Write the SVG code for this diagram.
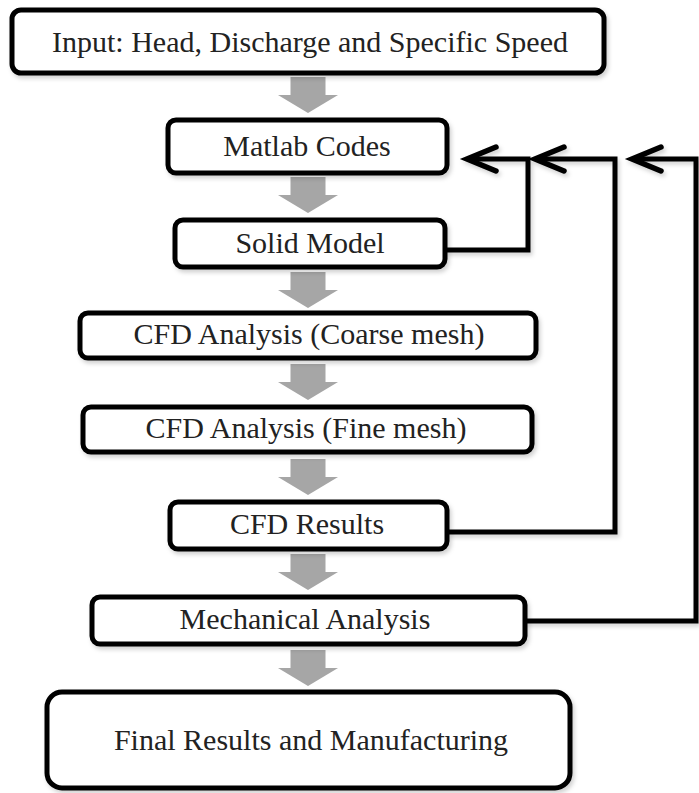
<svg xmlns="http://www.w3.org/2000/svg" width="699" height="793" viewBox="0 0 699 793">
<style>
.box{fill:#ffffff;stroke:#000000;stroke-width:5}
.lbl{font-family:"Liberation Serif","Times New Roman",serif;font-size:30px;fill:#222222;text-anchor:middle}
.conn{fill:none;stroke:#000000;stroke-width:5;stroke-linejoin:miter}
.flow{fill:#a6a6a6}
</style>
<defs>
<filter id="shadow" x="-5%" y="-20%" width="115%" height="150%">
<feDropShadow dx="2" dy="3" stdDeviation="2" flood-color="#000000" flood-opacity="0.18"/>
</filter>
<path id="down" class="flow" d="M-17.5 0 H17.5 V18 H30 L0 36 L-30 18 H-17.5 Z"/>
<marker id="chev" markerUnits="userSpaceOnUse" markerWidth="40" markerHeight="40" refX="0" refY="0" orient="auto" overflow="visible">
<path d="M-29 -12 L0 0 L-29 12" fill="none" stroke="#000000" stroke-width="5.5" stroke-linejoin="miter" stroke-linecap="round"/>
</marker>
</defs>
<rect width="699" height="793" fill="#ffffff"/>
<g id="flow-arrows">
<use href="#down" x="308" y="77"/>
<use href="#down" x="308" y="177"/>
<use href="#down" x="308" y="272"/>
<use href="#down" x="308" y="364"/>
<use href="#down" x="308" y="459"/>
<use href="#down" x="308" y="554"/>
<use href="#down" x="308" y="650"/>
</g>
<g id="connectors" filter="url(#shadow)">
<path class="conn" d="M445 250 H528 V159 H467" marker-end="url(#chev)"/>
<path class="conn" d="M447 532 H615 V159 H535" marker-end="url(#chev)"/>
<path class="conn" d="M525 621 H696 V159 H632" marker-end="url(#chev)"/>
</g>
<g id="input">
<rect class="box" x="12" y="10" width="592" height="63" rx="9" filter="url(#shadow)"/>
<text class="lbl" x="310" y="52">Input: Head, Discharge and Specific Speed</text>
</g>
<g id="matlab">
<rect class="box" x="168" y="120" width="279" height="53" rx="8" filter="url(#shadow)"/>
<text class="lbl" x="307" y="156">Matlab Codes</text>
</g>
<g id="solid">
<rect class="box" x="175" y="220" width="270" height="47" rx="8" filter="url(#shadow)"/>
<text class="lbl" x="310" y="253">Solid Model</text>
</g>
<g id="coarse">
<rect class="box" x="80" y="313" width="456" height="45" rx="8" filter="url(#shadow)"/>
<text class="lbl" x="309" y="344">CFD Analysis (Coarse mesh)</text>
</g>
<g id="fine">
<rect class="box" x="83" y="407" width="449" height="45" rx="8" filter="url(#shadow)"/>
<text class="lbl" x="306" y="438">CFD Analysis (Fine mesh)</text>
</g>
<g id="results">
<rect class="box" x="170" y="502" width="277" height="47" rx="8" filter="url(#shadow)"/>
<text class="lbl" x="307" y="534">CFD Results</text>
</g>
<g id="mechanical">
<rect class="box" x="92" y="597" width="433" height="47" rx="8" filter="url(#shadow)"/>
<text class="lbl" x="305" y="629">Mechanical Analysis</text>
</g>
<g id="final">
<rect class="box" x="47" y="692" width="523" height="96" rx="15" filter="url(#shadow)"/>
<text class="lbl" x="311" y="750">Final Results and Manufacturing</text>
</g>
</svg>
